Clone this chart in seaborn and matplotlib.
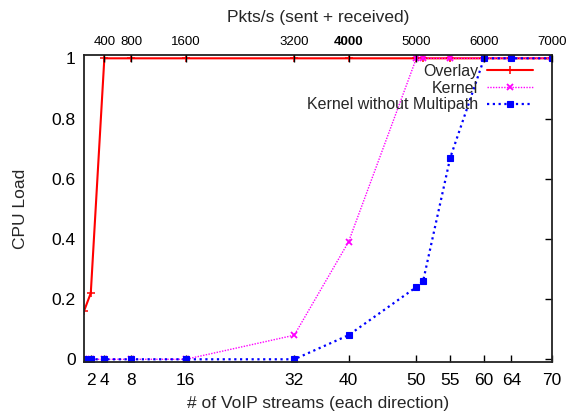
import matplotlib
matplotlib.use("Agg")
import matplotlib.pyplot as plt
import seaborn as sns
import pandas as pd

streams = [1, 2, 4, 8, 16, 32, 40, 50, 51, 55, 60, 64, 70]
overlay = [0.16, 0.22, 1, 1, 1, 1, 1, 1, 1, 1, 1, 1, 1]
kernel = [0, 0, 0, 0, 0, 0.08, 0.39, 1, 1, 1, 1, 1, 1]
kernel_nomp = [0, 0, 0, 0, 0, 0, 0.08, 0.24, 0.26, 0.67, 1, 1, 1]

bottom_ticks = [2, 4, 8, 16, 32, 40, 50, 55, 60, 64, 70]
top_tick_pos = [4, 8, 16, 32, 40, 50, 60, 70]
top_tick_labels = ["400", "800", "1600", "3200", "4000", "5000", "6000", "7000"]
y_ticks = [0, 0.2, 0.4, 0.6, 0.8, 1]
y_tick_labels = ["0", "0.2", "0.4", "0.6", "0.8", "1"]

sns.set_style("white")
plt.rcParams["font.family"] = ["Liberation Sans", "DejaVu Sans"]

fig = plt.figure(figsize=(5.66, 4.16), dpi=100)
ax = fig.add_axes([84 / 566, 1 - 362 / 416, (552 - 84) / 566, (362 - 55) / 416])

df = pd.DataFrame({"x": streams, "Overlay": overlay, "Kernel": kernel,
                   "Kernel without Multipath": kernel_nomp})

sns.lineplot(data=df, x="x", y="Overlay", ax=ax, color="#ff0000", lw=1.5,
             marker="+", markersize=6, markeredgewidth=1.1,
             markeredgecolor="#ff0000", label="Overlay")
sns.lineplot(data=df, x="x", y="Kernel", ax=ax, color="#ff00ff", lw=1.0,
             linestyle=(0, (1, 1)), marker="x", markersize=5,
             markeredgewidth=1.3, markeredgecolor="#ff00ff", label="Kernel")
sns.lineplot(data=df, x="x", y="Kernel without Multipath", ax=ax,
             color="#0000ff", lw=1.6, linestyle=(0, (1, 1.6)), marker="s",
             markersize=4.5, markeredgewidth=0.8, markeredgecolor="#0000ff",
             label="Kernel without Multipath")

ax.set_xlim(1, 70)
ax.set_ylim(-0.009, 1.011)
ax.set_xticks(bottom_ticks)
ax.set_xticklabels([str(t) for t in bottom_ticks])
ax.set_yticks(y_ticks)
ax.set_yticklabels(y_tick_labels)
ax.tick_params(axis="both", direction="in", length=5, width=1, labelsize=12.5,
               colors="black", right=True, pad=6)
ax.tick_params(axis="x", pad=8)
ax.set_xlabel("# of VoIP streams (each direction)", fontsize=12.5, labelpad=6)
ax.set_ylabel("CPU Load", fontsize=12.5, labelpad=17)
for s in ax.spines.values():
    s.set_color("#222222")
    s.set_linewidth(1.3)

ax2 = ax.twiny()
ax2.set_xlim(ax.get_xlim())
ax2.set_xticks(top_tick_pos)
ax2.set_xticklabels(top_tick_labels)
ax2.tick_params(axis="x", direction="in", length=5, width=1, labelsize=9.5,
                colors="black", pad=5)
for lbl in ax2.get_xticklabels():
    if lbl.get_text() == "4000":
        lbl.set_fontweight("bold")
ax2.set_xlabel("Pkts/s (sent + received)", fontsize=12.5, labelpad=10)
for s in ax2.spines.values():
    s.set_visible(False)

leg = ax.legend(loc="upper right", bbox_to_anchor=(541 / 566, 1 - 56 / 416),
                bbox_transform=fig.transFigure, frameon=False,
                markerfirst=False, fontsize=11.5, handlelength=2.9,
                handletextpad=0.55, labelspacing=0.1, borderpad=0)
for col in leg._legend_handle_box.get_children():
    col.align = "right"

fig.savefig("out.png", dpi=100)
